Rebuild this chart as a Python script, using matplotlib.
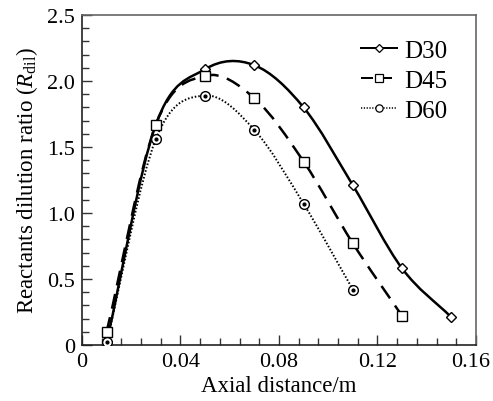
import numpy as np
import matplotlib
matplotlib.use("Agg")
import matplotlib.pyplot as plt
from matplotlib.path import Path
from matplotlib.patches import PathPatch
from matplotlib.lines import Line2D
from matplotlib.ticker import MultipleLocator, FuncFormatter

plt.rcParams['font.family'] = ['Liberation Serif', 'DejaVu Serif']
plt.rcParams['mathtext.fontset'] = 'custom'
plt.rcParams['mathtext.rm'] = 'Liberation Serif'
plt.rcParams['mathtext.it'] = 'Liberation Serif:italic'

# data
x_d30 = [0.01, 0.03, 0.05, 0.07, 0.09, 0.11, 0.13, 0.15]
y_d30 = [0.02, 1.67, 2.09, 2.12, 1.80, 1.21, 0.58, 0.21]
x_d45 = [0.01, 0.03, 0.05, 0.07, 0.09, 0.11, 0.13]
y_d45 = [0.10, 1.67, 2.04, 1.87, 1.39, 0.77, 0.22]
x_d60 = [0.01, 0.03, 0.05, 0.07, 0.09, 0.11]
y_d60 = [0.02, 1.56, 1.89, 1.63, 1.07, 0.42]
labels = ['D30', 'D45', 'D60']


def smooth_path(xs, ys):
    # Catmull-Rom style cubic bezier through the data points
    xs = np.asarray(xs, float)
    ys = np.asarray(ys, float)
    n = len(xs)
    m = np.zeros(n)
    for i in range(n):
        if i == 0:
            m[i] = (ys[1] - ys[0]) / (xs[1] - xs[0])
        elif i == n - 1:
            m[i] = (ys[-1] - ys[-2]) / (xs[-1] - xs[-2])
        else:
            m[i] = (ys[i + 1] - ys[i - 1]) / (xs[i + 1] - xs[i - 1])
    verts = [(xs[0], ys[0])]
    codes = [Path.MOVETO]
    for i in range(n - 1):
        h = xs[i + 1] - xs[i]
        verts += [(xs[i] + h / 3, ys[i] + m[i] * h / 3),
                  (xs[i + 1] - h / 3, ys[i + 1] - m[i + 1] * h / 3),
                  (xs[i + 1], ys[i + 1])]
        codes += [Path.CURVE4] * 3
    return Path(verts, codes)


fig = plt.figure(figsize=(4.93, 4.02), dpi=100)
ax = fig.add_axes([0.1663, 0.1393, 0.7992, 0.8207])

styles = [
    dict(ls='-', lw=1.8, marker='D', ms=5.5),
    dict(ls=(0, (6, 3.5)), lw=1.8, marker='s', ms=7.5),
    dict(ls=(0, (0.8, 1.0)), lw=1.4, marker='o', ms=7),
]
series = [(x_d30, y_d30), (x_d45, y_d45), (x_d60, y_d60)]

handles = []
for (xs, ys), st, lab in zip(series, styles, labels):
    patch = PathPatch(smooth_path(xs, ys), fill=False, edgecolor='black',
                      lw=st['lw'], linestyle=st['ls'], zorder=2)
    ax.add_patch(patch)
    ax.plot(xs, ys, ls='none', marker=st['marker'], ms=st['ms'],
            mfc='white', mec='black', mew=1.0, zorder=3)
    if st['marker'] == 'o':
        ax.plot(xs, ys, ls='none', marker='o', ms=2, color='black', zorder=4)
    handles.append(Line2D([], [], color='black', ls=st['ls'], lw=st['lw'] * 0.8,
                          marker=st['marker'], ms=st['ms'] * 0.75,
                          mfc='white', mec='black', mew=0.9))

ax.set_xlim(0, 0.16)
ax.set_ylim(0, 2.5)
ax.xaxis.set_major_locator(MultipleLocator(0.04))
ax.xaxis.set_minor_locator(MultipleLocator(0.008))
ax.yaxis.set_major_locator(MultipleLocator(0.5))
ax.yaxis.set_minor_locator(MultipleLocator(0.1))


def fmt_x(v, pos):
    if abs(v) < 1e-12:
        return '0'
    if v > 0.159:
        return ''  # drawn separately so it stays inside the figure
    return '%.2f' % v


def fmt_y(v, pos):
    return '0' if abs(v) < 1e-12 else '%.1f' % v


ax.xaxis.set_major_formatter(FuncFormatter(fmt_x))
ax.yaxis.set_major_formatter(FuncFormatter(fmt_y))
ax.tick_params(which='both', direction='in', top=False, right=False,
               labelsize=16, width=1.0, color='#333333')
ax.tick_params(which='major', length=7, pad=5)
ax.tick_params(which='minor', length=5)

ax.annotate('%.2f' % 0.16, xy=(0.16, 0), xycoords=('data', 'axes fraction'),
            xytext=(-4, -5), textcoords='offset points',
            ha='center', va='top', fontsize=16)

for s in ['left', 'bottom']:
    ax.spines[s].set_linewidth(1.2)
    ax.spines[s].set_color('#222222')
for s in ['top', 'right']:
    ax.spines[s].set_linewidth(1.2)
    ax.spines[s].set_color('#666666')

ax.set_xlabel('Axial distance/m', fontsize=16.5, labelpad=3)
ax.set_ylabel(r'Reactants dilution ratio ($R_{\mathrm{dil}}$)', fontsize=16.5, labelpad=5)

ax.legend(handles, labels, loc='upper right', frameon=False, fontsize=18,
          handlelength=1.45, handletextpad=0.3, labelspacing=0.3,
          bbox_to_anchor=(0.985, 0.995))

fig.savefig('out.png', dpi=100)
